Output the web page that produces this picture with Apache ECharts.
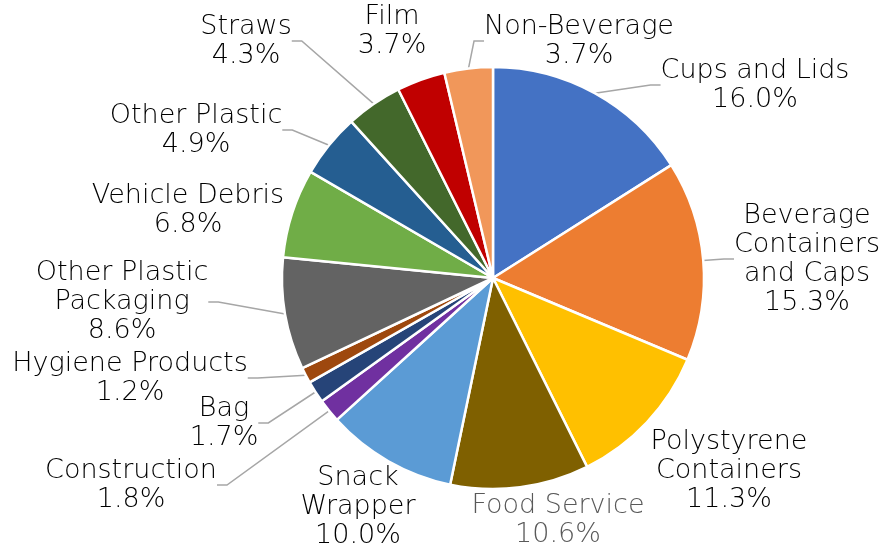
<!DOCTYPE html>
<html>
<head>
<meta charset="utf-8">
<script src="https://cdn.jsdelivr.net/npm/echarts@6/dist/echarts.min.js"></script>
<style>html,body{margin:0;padding:0;background:#fff}#c{width:881px;height:552px}</style>
</head>
<body>
<div id="c"></div>
<script>
var categories = ['Cups and Lids','Beverage Containers and Caps','Polystyrene Containers','Food Service','Snack Wrapper','Construction','Bag','Hygiene Products','Other Plastic Packaging','Vehicle Debris','Other Plastic','Straws','Film','Non-Beverage'];
var labelNames = ['Cups and Lids','Beverage\nContainers\nand Caps','Polystyrene\nContainers','Food Service','Snack\nWrapper','Construction','Bag','Hygiene Products','Other Plastic\nPackaging','Vehicle Debris','Other Plastic','Straws','Film','Non-Beverage'];
var values = [16.0,15.3,11.3,10.6,10.0,1.8,1.7,1.2,8.6,6.8,4.9,4.3,3.7,3.7];
var colors = ['#4472C4','#ED7D31','#FFC000','#7F6000','#5B9BD5','#7030A0','#264478','#9E480E','#636363','#70AD47','#255E91','#43682B','#C00000','#F1975A'];
var showLine = [true,true,false,false,false,true,true,true,true,false,true,true,false,true];
var labelPos = [[755,85],[807,259],[729,471],[558,520],[358,507],[131,485],[224,423],[130,378],[122,302],[188,210],[196,130],[246,41],[392,31],[579,41]];

var data = values.map(function(v,i){
  return {
    name: categories[i], value: v,
    itemStyle: {color: colors[i]},
    label: {color: i===3 ? '#595959' : '#000000'},
    labelLine: {show: showLine[i]}
  };
});

var chart = echarts.init(document.getElementById('c'), null, {renderer:'canvas'});
chart.setOption({
  animation: false,
  series: [{
    type: 'pie',
    center: [493, 278],
    radius: [0, 211],
    startAngle: 90,
    clockwise: true,
    data: data,
    itemStyle: {borderColor: '#fff', borderWidth: 2.5},
    label: {
      show: true,
      position: 'outside',
      fontFamily: 'DejaVu Sans',
      fontWeight: 200,
      fontSize: 27,
      lineHeight: 29,
      align: 'center',
      formatter: function(p){ return labelNames[p.dataIndex] + '\n' + p.value.toFixed(1) + '%'; }
    },
    labelLine: {lineStyle: {color: '#A6A6A6', width: 1.5}, length: 10, length2: 10},
    labelLayout: function(p){
      var pos = labelPos[p.dataIndex];
      return {x: pos[0], y: pos[1], align: 'center', verticalAlign: 'middle'};
    }
  }]
});
</script>
</body>
</html>
